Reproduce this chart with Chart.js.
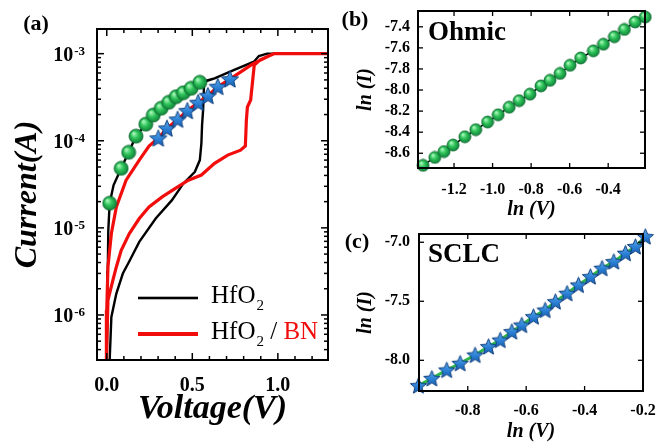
<!DOCTYPE html>
<html>
<head>
<meta charset="utf-8">
<script src="https://cdn.jsdelivr.net/npm/chart.js@4.4.0/dist/chart.umd.min.js"></script>
<style>
  html, body { margin: 0; padding: 0; background: #fff; }
  #wrap { position: relative; width: 669px; height: 444px; overflow: hidden; }
  canvas { position: absolute; }
</style>
</head>
<body>
<div id="wrap">
  <canvas id="chartA" width="338" height="444" style="left:0;top:0"></canvas>
  <canvas id="chartB" width="331" height="222" style="left:338px;top:0"></canvas>
  <canvas id="chartC" width="331" height="222" style="left:338px;top:222px"></canvas>
</div>
<script>
// ---- (a) I-V sweeps ----
// HfO2: set sweep up, compliance, then return sweep
const hfo2Voltage = [0.017, 0.027, 0.056, 0.094, 0.132, 0.19, 0.286, 0.381, 0.448, 0.515, 0.544, 0.553, 0.557, 0.563, 0.569,
  0.63, 0.745, 0.86, 0.889, 0.937, 1.30,
  0.937, 0.889, 0.86, 0.745, 0.63, 0.544, 0.493, 0.448, 0.406, 0.362, 0.318, 0.272, 0.228, 0.171, 0.128, 0.084, 0.04,
  0.017, 0.009, 0.006, 0.003, 0.0];
const hfo2Current = [3.0e-7, 9.5e-7, 1.76e-6, 2.99e-6, 4.14e-6, 6.9e-6, 1.28e-5, 2.08e-5, 3.24e-5, 4.41e-5, 6.0e-5, 9.3e-5, 1.51e-4, 2.25e-4, 4.73e-4,
  5.21e-4, 6.5e-4, 8.09e-4, 9.4e-4, 1.0e-3, 1.0e-3,
  1.0e-3, 9.4e-4, 8.09e-4, 6.5e-4, 5.21e-4, 4.69e-4, 4.0e-4, 3.56e-4, 3.21e-4, 2.76e-4, 2.36e-4, 1.97e-4, 1.55e-4, 1.13e-4, 7.4e-5, 4.8e-5, 3.1e-5,
  1.92e-5, 9.3e-6, 3.2e-6, 8.7e-7, 3.0e-7];

// HfO2/BN
const bnVoltage = [-0.002, 0.007, 0.036, 0.056, 0.084, 0.132, 0.19, 0.247, 0.324, 0.401, 0.477, 0.553, 0.63, 0.707, 0.782, 0.81,
  0.816, 0.822, 0.841, 0.862, 0.897, 0.977, 1.30,
  0.977, 0.851, 0.72, 0.649, 0.591, 0.534, 0.471, 0.414, 0.352, 0.301, 0.247, 0.19, 0.113, 0.056, 0.027, 0.007, 0.0, -0.002];
const bnCurrent = [3.0e-7, 1.48e-6, 2.51e-6, 3.56e-6, 5.5e-6, 8.6e-6, 1.28e-5, 1.74e-5, 2.27e-5, 2.84e-5, 3.53e-5, 4.04e-5, 5.5e-5, 6.85e-5, 7.8e-5, 8.7e-5,
  1.73e-4, 2.44e-4, 2.94e-4, 7.4e-4, 8.5e-4, 1.0e-3, 1.0e-3,
  1.0e-3, 7.6e-4, 5.1e-4, 4.18e-4, 3.29e-4, 2.74e-4, 2.21e-4, 1.76e-4, 1.39e-4, 1.07e-4, 8.7e-5, 6.0e-5, 3.53e-5, 1.74e-5, 8.6e-6, 3.56e-6, 1.13e-6, 3.0e-7];

// fit markers on the curves
const ohmicMarkV = [0.017, 0.084, 0.128, 0.171, 0.228, 0.272, 0.318, 0.362, 0.406, 0.448, 0.493, 0.544];
const ohmicMarkI = [1.92e-5, 4.82e-5, 7.36e-5, 1.13e-4, 1.55e-4, 1.97e-4, 2.36e-4, 2.76e-4, 3.21e-4, 3.56e-4, 4.0e-4, 4.69e-4];
const sclcMarkV = [0.301, 0.352, 0.414, 0.471, 0.534, 0.591, 0.649, 0.720];
const sclcMarkI = [1.07e-4, 1.39e-4, 1.76e-4, 2.21e-4, 2.74e-4, 3.29e-4, 4.18e-4, 5.1e-4];

const currentDecades = [1e-6, 1e-5, 1e-4, 1e-3];

// ---- (b) Ohmic fit: ln(I) vs ln(V) ----
const ohmicLnV = [-1.361, -1.300, -1.252, -1.205, -1.144, -1.087, -1.026, -0.971, -0.914, -0.862, -0.806,
  -0.749, -0.702, -0.650, -0.598, -0.543, -0.477, -0.425, -0.368, -0.316, -0.260, -0.208];
const ohmicLnI = [-8.715, -8.640, -8.584, -8.522, -8.444, -8.376, -8.304, -8.235, -8.163, -8.101, -8.039,
  -7.961, -7.908, -7.843, -7.765, -7.696, -7.628, -7.565, -7.494, -7.425, -7.354, -7.307];

// ---- (c) SCLC fit ----
const sclcLnV = [-0.969, -0.923, -0.872, -0.826, -0.775, -0.729, -0.689, -0.649, -0.615, -0.575,
  -0.535, -0.500, -0.460, -0.421, -0.380, -0.340, -0.300, -0.260, -0.226, -0.192];
const sclcLnI = [-8.214, -8.153, -8.082, -8.025, -7.955, -7.884, -7.828, -7.757, -7.701, -7.630,
  -7.574, -7.503, -7.432, -7.362, -7.291, -7.220, -7.164, -7.093, -7.036, -6.952];

const SERIF = '"Liberation Serif", "Times New Roman", serif';
Chart.defaults.color = '#000';
Chart.defaults.font.family = SERIF;

function toPoints(xs, ys) {
  return xs.map((x, i) => ({ x: x, y: ys[i] }));
}

// shaded green ball used as point style
function makeBall(r) {
  const s = Math.ceil(r * 2 + 2);
  const c = document.createElement('canvas');
  c.width = s; c.height = s;
  const g = c.getContext('2d');
  const grad = g.createRadialGradient(s / 2 - r * 0.35, s / 2 - r * 0.4, r * 0.1, s / 2, s / 2, r);
  grad.addColorStop(0, '#a6f5b8');
  grad.addColorStop(0.45, '#2fc45a');
  grad.addColorStop(1, '#10823a');
  g.beginPath();
  g.arc(s / 2, s / 2, r, 0, Math.PI * 2);
  g.fillStyle = grad;
  g.fill();
  g.lineWidth = 0.8;
  g.strokeStyle = '#0d6a2e';
  g.stroke();
  return c;
}

// shaded blue five-point star
function makeStar(r) {
  const s = Math.ceil(r * 2 + 2);
  const c = document.createElement('canvas');
  c.width = s; c.height = s;
  const g = c.getContext('2d');
  const cx = s / 2, cy = s / 2 + r * 0.08;
  g.beginPath();
  for (let i = 0; i < 10; i++) {
    const rad = i % 2 === 0 ? r : r * 0.45;
    const a = -Math.PI / 2 + i * Math.PI / 5;
    const px = cx + rad * Math.cos(a), py = cy + rad * Math.sin(a);
    if (i === 0) g.moveTo(px, py); else g.lineTo(px, py);
  }
  g.closePath();
  const grad = g.createLinearGradient(0, 0, 0, s);
  grad.addColorStop(0, '#6db8f5');
  grad.addColorStop(0.55, '#2a7fd4');
  grad.addColorStop(1, '#1456a8');
  g.fillStyle = grad;
  g.fill();
  g.lineWidth = 1;
  g.strokeStyle = '#0e3f7e';
  g.stroke();
  return c;
}

function stepValues(min, max, step) {
  const out = [];
  for (let k = Math.ceil(min / step - 1e-9); k * step <= max + 1e-9; k++) out.push(+(k * step).toFixed(6));
  return out;
}

function isMultiple(v, step) {
  return Math.abs(v / step - Math.round(v / step)) < 1e-6;
}

// transparent canvas laid over a chart canvas, for the frame and ticks
function makeOverlay(canvas) {
  const o = document.createElement('canvas');
  o.width = canvas.width;
  o.height = canvas.height;
  o.style.left = canvas.style.left;
  o.style.top = canvas.style.top;
  o.style.pointerEvents = 'none';
  canvas.parentNode.appendChild(o);
  return o;
}

// frame box and inward ticks on all four sides, placed from the chart's scales
function drawFrame(chart, cfg, ctx) {
  const a = chart.chartArea;
  const x = chart.scales.x, y = chart.scales.y;
  const tw = cfg.tickWidth, fw = cfg.frameWidth;
  ctx.save();
  ctx.fillStyle = '#000';

  stepValues(x.min, x.max, cfg.xMinor).forEach(v => {
    const px = x.getPixelForValue(v);
    const len = isMultiple(v, cfg.xMajor) ? cfg.major : cfg.minor;
    ctx.fillRect(px - tw / 2, a.bottom - len, tw, len);
    ctx.fillRect(px - tw / 2, a.top, tw, len);
  });

  let yVals = [];
  if (cfg.log) {
    for (let e = Math.floor(Math.log10(y.min)); e <= Math.ceil(Math.log10(y.max)); e++) {
      for (let m = 1; m <= 9; m++) {
        const v = m * Math.pow(10, e);
        if (v >= y.min && v <= y.max) yVals.push({ v: v, major: m === 1 });
      }
    }
  } else {
    yVals = stepValues(y.min, y.max, cfg.yMinor).map(v => ({ v: v, major: isMultiple(v, cfg.yMajor) }));
  }
  yVals.forEach(t => {
    const py = y.getPixelForValue(t.v);
    const len = t.major ? cfg.major : cfg.minor;
    ctx.fillRect(a.left, py - tw / 2, len, tw);
    ctx.fillRect(a.right - len, py - tw / 2, len, tw);
  });

  ctx.fillRect(a.left - fw / 2, a.top - fw / 2, a.right - a.left + fw, fw);
  ctx.fillRect(a.left - fw / 2, a.bottom - fw / 2, a.right - a.left + fw, fw);
  ctx.fillRect(a.left - fw / 2, a.top - fw / 2, fw, a.bottom - a.top + fw);
  ctx.fillRect(a.right - fw / 2, a.top - fw / 2, fw, a.bottom - a.top + fw);
  ctx.restore();
}

// one plugin per chart: frame on the overlay, free text on the chart itself
function decor(canvas, cfg, drawText) {
  const overlay = makeOverlay(canvas);
  return {
    id: 'decor',
    afterDraw(chart) {
      const g = overlay.getContext('2d');
      g.clearRect(0, 0, overlay.width, overlay.height);
      drawFrame(chart, cfg, g);
      drawText(chart, chart.ctx);
    }
  };
}

// keep the plot box where it is: no extra room for overflowing labels
function fixX(h) {
  return s => { s.height = h; s.paddingLeft = 0; s.paddingRight = 0; };
}
function fixY(w) {
  return s => { s.width = w; s.paddingTop = 0; s.paddingBottom = 0; };
}

const noPlugins = { legend: { display: false }, tooltip: { enabled: false } };

function linearAxis(min, max, step, fontSize, pad, afterFit, title) {
  return {
    type: 'linear', min: min, max: max,
    grid: { display: false, drawTicks: false },
    border: { display: false },
    ticks: {
      stepSize: step, includeBounds: false, autoSkip: false, maxRotation: 0, padding: pad,
      font: { size: fontSize, weight: 'bold', family: SERIF },
      callback: v => (isMultiple(v, step) ? v.toFixed(1) : '')
    },
    title: title,
    afterFit: afterFit
  };
}

// ---------- chart (a) ----------
const starBig = makeStar(9);
const ballBig = makeBall(7);

function drawPanelA(chart, ctx) {
  const y = chart.scales.y;
  ctx.save();
  ctx.fillStyle = '#000';
  // decade labels 10^n
  currentDecades.forEach(v => {
    const py = y.getPixelForValue(v);
    const exp = String(Math.round(Math.log10(v)));
    ctx.font = 'bold 13px ' + SERIF;
    const ew = ctx.measureText(exp).width;
    const right = chart.chartArea.left - 12;
    ctx.textAlign = 'left';
    ctx.textBaseline = 'alphabetic';
    ctx.fillText(exp, right - ew, py + 1);
    ctx.font = 'bold 20px ' + SERIF;
    ctx.textAlign = 'right';
    ctx.fillText('10', right - ew - 1, py + 7);
  });
  // panel letter
  ctx.font = 'bold 22px ' + SERIF;
  ctx.textAlign = 'center';
  ctx.textBaseline = 'middle';
  ctx.fillText('(a)', 36, 24);
  // legend
  const rows = [
    { color: '#000', width: 2.6, y: 298, parts: [['HfO', '#000'], ['2', '#000', true]] },
    { color: '#f20d0d', width: 4, y: 334, parts: [['HfO', '#000'], ['2', '#000', true], [' / ', '#000'], ['BN', '#f20d0d']] }
  ];
  rows.forEach(r => {
    ctx.fillStyle = r.color;
    ctx.fillRect(138, r.y - r.width / 2, 60, r.width);
    let tx = 211;
    ctx.textAlign = 'left';
    ctx.textBaseline = 'alphabetic';
    r.parts.forEach(p => {
      ctx.fillStyle = p[1];
      ctx.font = (p[2] ? '15px ' : '25px ') + SERIF;
      const by = r.y + (p[2] ? 12 : 5);
      ctx.fillText(p[0], tx + (p[2] ? 1 : 0), by);
      tx += ctx.measureText(p[0]).width + (p[2] ? 1 : 0);
    });
  });
  ctx.restore();
}

const canvasA = document.getElementById('chartA');
new Chart(canvasA, {
  type: 'scatter',
  data: {
    datasets: [
      { data: toPoints(sclcMarkV, sclcMarkI), pointStyle: starBig, pointRadius: 9, showLine: false, clip: false },
      { data: toPoints(ohmicMarkV, ohmicMarkI), pointStyle: ballBig, pointRadius: 7, showLine: false, clip: false },
      { data: toPoints(bnVoltage, bnCurrent), showLine: true, borderColor: '#f20d0d', borderWidth: 3.2, pointRadius: 0, tension: 0 },
      { data: toPoints(hfo2Voltage, hfo2Current), showLine: true, borderColor: '#000', borderWidth: 2.4, pointRadius: 0, tension: 0 }
    ]
  },
  options: {
    responsive: false,
    animation: false,
    layout: { padding: { left: 0, top: 29, right: 5, bottom: 0 } },
    scales: {
      x: linearAxis(-0.057, 1.293, 0.5, 20, 14, fixX(84),
        { display: true, text: 'Voltage(V)', font: { size: 34, weight: 'bold', style: 'italic', family: SERIF }, padding: { top: 0, bottom: 14 } }),
      y: {
        type: 'logarithmic', min: 3.04e-7, max: 1.92e-3,
        grid: { display: false, drawTicks: false },
        border: { display: false },
        ticks: { display: false },
        title: { display: true, text: 'Current(A)', font: { size: 32, weight: 'bold', style: 'italic', family: SERIF }, padding: { top: 9, bottom: 0 } },
        afterFit: fixY(97)
      }
    },
    plugins: noPlugins
  },
  plugins: [decor(canvasA, { log: true, xMinor: 0.1, xMajor: 0.5, major: 7, minor: 4, tickWidth: 1.5, frameWidth: 2 }, drawPanelA)]
});

// ---------- chart (b) ----------
const ballSmall = makeBall(6);

function panelLabel(letter, lx, name) {
  return function (chart, ctx) {
    ctx.save();
    ctx.fillStyle = '#000';
    ctx.textBaseline = 'middle';
    ctx.font = 'bold 22px ' + SERIF;
    ctx.textAlign = 'center';
    ctx.fillText(letter, lx, 20);
    ctx.font = 'bold 27px ' + SERIF;
    ctx.textAlign = 'left';
    ctx.fillText(name, 90, 33);
    ctx.restore();
  };
}

const lnTitleX = { display: true, text: 'ln (V)', font: { size: 20, weight: 'bold', style: 'italic', family: SERIF }, padding: { top: 0, bottom: 0 } };
const lnTitleY = { display: true, text: 'ln (I)', font: { size: 20, weight: 'bold', style: 'italic', family: SERIF }, padding: { top: 16, bottom: 0 } };

const canvasB = document.getElementById('chartB');
new Chart(canvasB, {
  type: 'scatter',
  data: {
    datasets: [
      { data: toPoints(ohmicLnV, ohmicLnI), showLine: true, borderColor: '#000', borderWidth: 1.5,
        pointStyle: ballSmall, pointRadius: 6, tension: 0, clip: false }
    ]
  },
  options: {
    responsive: false,
    animation: false,
    layout: { padding: { left: 0, top: 11, right: 24, bottom: 0 } },
    scales: {
      x: linearAxis(-1.387, -0.209, 0.2, 16, 12, fixX(54), lnTitleX),
      y: linearAxis(-8.74, -7.25, 0.2, 16, 8, fixY(80), lnTitleY)
    },
    plugins: noPlugins
  },
  plugins: [decor(canvasB, { xMinor: 0.2, xMajor: 0.2, yMinor: 0.2, yMajor: 0.2, major: 5, minor: 5, tickWidth: 1.3, frameWidth: 2 },
    panelLabel('(b)', 17, 'Ohmic'))]
});

// ---------- chart (c) ----------
const starSmall = makeStar(8.5);

const canvasC = document.getElementById('chartC');
new Chart(canvasC, {
  type: 'scatter',
  data: {
    datasets: [
      { data: toPoints(sclcLnV, sclcLnI), showLine: true, borderColor: '#2db84d', borderWidth: 3,
        pointStyle: starSmall, pointRadius: 8, tension: 0, clip: false }
    ]
  },
  options: {
    responsive: false,
    animation: false,
    layout: { padding: { left: 0, top: 12, right: 26, bottom: 0 } },
    scales: {
      x: linearAxis(-0.967, -0.2, 0.2, 16, 10, fixX(53), lnTitleX),
      y: linearAxis(-8.26, -6.93, 0.5, 16, 9, fixY(81), lnTitleY)
    },
    plugins: noPlugins
  },
  plugins: [decor(canvasC, { xMinor: 0.2, xMajor: 0.2, yMinor: 0.5, yMajor: 0.5, major: 5, minor: 5, tickWidth: 1.3, frameWidth: 2 },
    panelLabel('(c)', 19, 'SCLC'))]
});
</script>
</body>
</html>
